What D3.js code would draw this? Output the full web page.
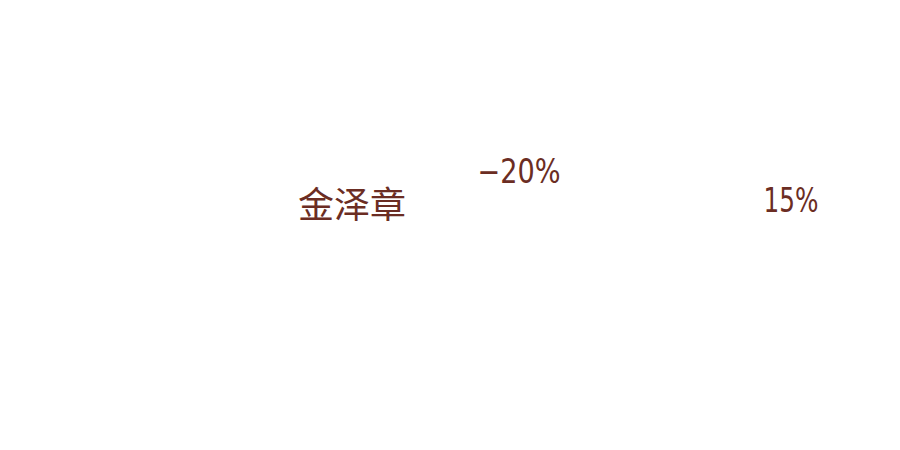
<!DOCTYPE html>
<html>
<head>
<meta charset="utf-8">
<script src="https://cdn.jsdelivr.net/npm/d3@7"></script>
<style>
  html, body { margin: 0; padding: 0; background: #ffffff; }
  svg { display: block; }
</style>
</head>
<body>
<svg id="chart" width="900" height="450"></svg>
<script>
// ---- data ----
const categories = ["金泽章"];
const seriesNames = ["变化A", "变化B"];
const seriesValues = [-0.20, 0.15];

// ---- layout ----
const ink = "#6b2d23";
const svg = d3.select("#chart");

const x = d3.scaleLinear().domain([-0.20, 0.15]).range([519, 791]);
const y = d3.scalePoint().domain(seriesNames).range([183, 212]);
const fmt = v => (v < 0 ? "\u2212" : "") + d3.format(".0%")(Math.abs(v));

// category label
svg.selectAll("text.cat")
  .data(categories)
  .enter().append("text")
  .attr("class", "cat")
  .attr("x", 406)
  .attr("y", 218)
  .attr("text-anchor", "end")
  .attr("fill", ink)
  .style("font-family", "'Noto Sans CJK SC', sans-serif")
  .style("font-size", "36px")
  .text(d => d);

// value labels (narrow, Futura-like look)
const vals = svg.selectAll("text.val")
  .data(seriesValues.map((v, i) => ({ name: seriesNames[i], v })))
  .enter().append("text")
  .attr("class", "val")
  .attr("x", d => x(d.v))
  .attr("y", d => y(d.name))
  .attr("text-anchor", "middle")
  .attr("fill", ink)
  .style("font-family", "'Liberation Sans Narrow', 'DejaVu Sans Condensed', sans-serif")
  .style("font-size", "33.5px")
  .text(d => fmt(d.v));

vals.each(function(d) {
  const w = this.getComputedTextLength();
  const k = d.v < 0 ? 0.9 : 0.82;
  d3.select(this)
    .attr("textLength", w * k)
    .attr("lengthAdjust", "spacingAndGlyphs");
});
</script>
</body>
</html>
